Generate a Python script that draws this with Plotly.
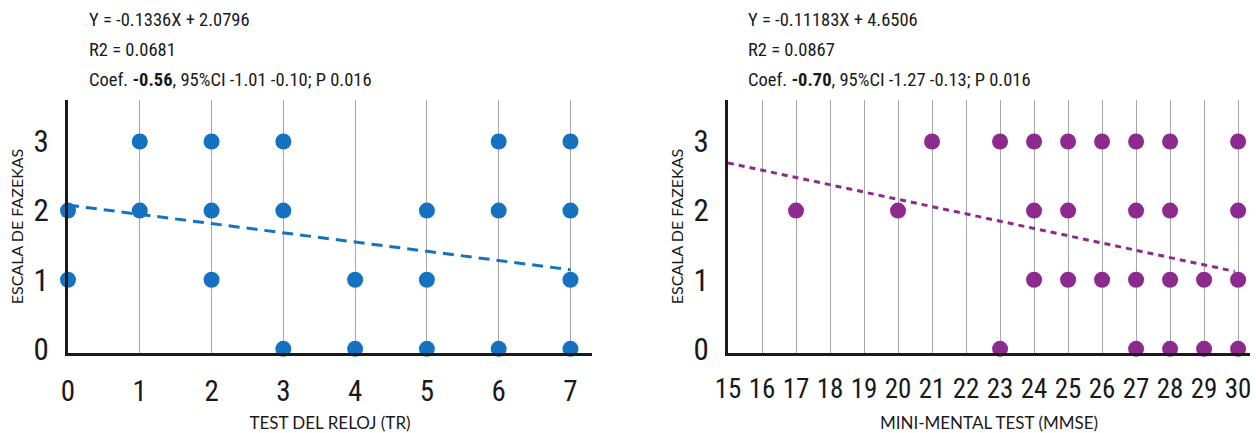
import plotly.graph_objects as go

# Left panel: Test del reloj (TR) vs Escala de Fazekas
tr_x = [0, 0, 1, 1, 2, 2, 2, 3, 3, 3, 4, 4, 5, 5, 5, 6, 6, 6, 7, 7, 7, 7]
tr_y = [2, 1, 3, 2, 3, 2, 1, 3, 2, 0, 1, 0, 2, 1, 0, 3, 2, 0, 3, 2, 1, 0]
tr_fit_x = [0, 7]
tr_fit_y = [2.0796, 2.0796 - 0.1336 * 7]

# Right panel: Mini-mental test (MMSE) vs Escala de Fazekas
mm_x = [17, 20, 21, 23, 23, 24, 24, 24, 25, 25, 25, 26, 26,
        27, 27, 27, 27, 28, 28, 28, 28, 29, 29, 30, 30, 30, 30]
mm_y = [2, 2, 3, 3, 0, 3, 2, 1, 3, 2, 1, 3, 1,
        3, 2, 1, 0, 3, 2, 1, 0, 1, 0, 3, 2, 1, 0]
mm_fit_x = [15, 29.9]
mm_fit_y = [2.69, 1.12]

tr_ticks = [0, 1, 2, 3, 4, 5, 6, 7]
mm_ticks = list(range(15, 31))
y_ticks = [0, 1, 2, 3]

left_text = ["Y = -0.1336X + 2.0796", "R2 = 0.0681",
             "Coef. <b>-0.56</b>, 95%CI -1.01 -0.10; P 0.016"]
right_text = ["Y = -0.11183X + 4.6506", "R2 = 0.0867",
              "Coef. <b>-0.70</b>, 95%CI -1.27 -0.13; P 0.016"]

BLUE = "#1572c0"
PURPLE = "#8c2a8e"
NARROW = "Roboto Condensed, DejaVu Sans Condensed, sans-serif"
HUM = "Lato, Open Sans, sans-serif"
INK = "#1a1a1a"

fig = go.Figure()
fig.add_trace(go.Scatter(x=tr_fit_x, y=tr_fit_y, mode="lines",
                         line=dict(color=BLUE, width=3, dash="11px,7px"),
                         xaxis="x", yaxis="y", showlegend=False))
fig.add_trace(go.Scatter(x=tr_x, y=tr_y, mode="markers",
                         marker=dict(color=BLUE, size=16),
                         xaxis="x", yaxis="y", showlegend=False, cliponaxis=False))
fig.add_trace(go.Scatter(x=mm_fit_x, y=mm_fit_y, mode="lines",
                         line=dict(color=PURPLE, width=3, dash="6px,5px"),
                         xaxis="x2", yaxis="y2", showlegend=False))
fig.add_trace(go.Scatter(x=mm_x, y=mm_y, mode="markers",
                         marker=dict(color=PURPLE, size=16),
                         xaxis="x2", yaxis="y2", showlegend=False, cliponaxis=False))

W, H = 1256, 433
YDOM = [1 - 353 / H, 1 - 100 / H]
common_x = dict(showline=True, linecolor=INK, linewidth=3, showgrid=True,
                gridcolor="#a8a8a8", gridwidth=1.2, zeroline=False, ticks="",
                ticklabelstandoff=10, automargin=False)
common_y = dict(showline=True, linecolor=INK, linewidth=3, showgrid=False,
                zeroline=False, ticks="", range=[-0.06, 3.6], tickvals=y_ticks,
                ticklabelstandoff=10, automargin=False, domain=YDOM,
                tickfont=dict(family=NARROW, size=31, color=INK),
                title=dict(text="ESCALA DE FAZEKAS", standoff=6,
                           font=dict(family=HUM, size=16, color=INK)))

fig.update_layout(
    width=W, height=H,
    margin=dict(l=0, r=0, t=0, b=0),
    paper_bgcolor="white", plot_bgcolor="white",
    xaxis=dict(common_x, domain=[68 / W, 592 / W], range=[0, 7.3],
               tickvals=tr_ticks, anchor="y",
               tickfont=dict(family=NARROW, size=29, color=INK),
               title=dict(text="TEST DEL RELOJ (TR)", standoff=13,
                          font=dict(family=HUM, size=17, color=INK))),
    yaxis=dict(common_y, anchor="x"),
    xaxis2=dict(common_x, domain=[728 / W, 1250 / W], range=[15, 30.35],
                tickvals=mm_ticks, anchor="y2",
                tickfont=dict(family=NARROW, size=27, color=INK),
                title=dict(text="MINI-MENTAL TEST (MMSE)", standoff=15,
                           font=dict(family=HUM, size=17, color=INK))),
    yaxis2=dict(common_y, anchor="x2"),
)

for i, t in enumerate(left_text):
    fig.add_annotation(text=t, xref="paper", yref="paper", x=87 / W, y=1 - (20 + 30 * i) / H,
                       xanchor="left", yanchor="middle", showarrow=False,
                       font=dict(family=NARROW, size=18.5, color=INK))
for i, t in enumerate(right_text):
    fig.add_annotation(text=t, xref="paper", yref="paper", x=746 / W, y=1 - (20 + 30 * i) / H,
                       xanchor="left", yanchor="middle", showarrow=False,
                       font=dict(family=NARROW, size=18.5, color=INK))

fig.write_html("out.html", config={"displayModeBar": False},
               post_script="document.body.style.margin='0';")
